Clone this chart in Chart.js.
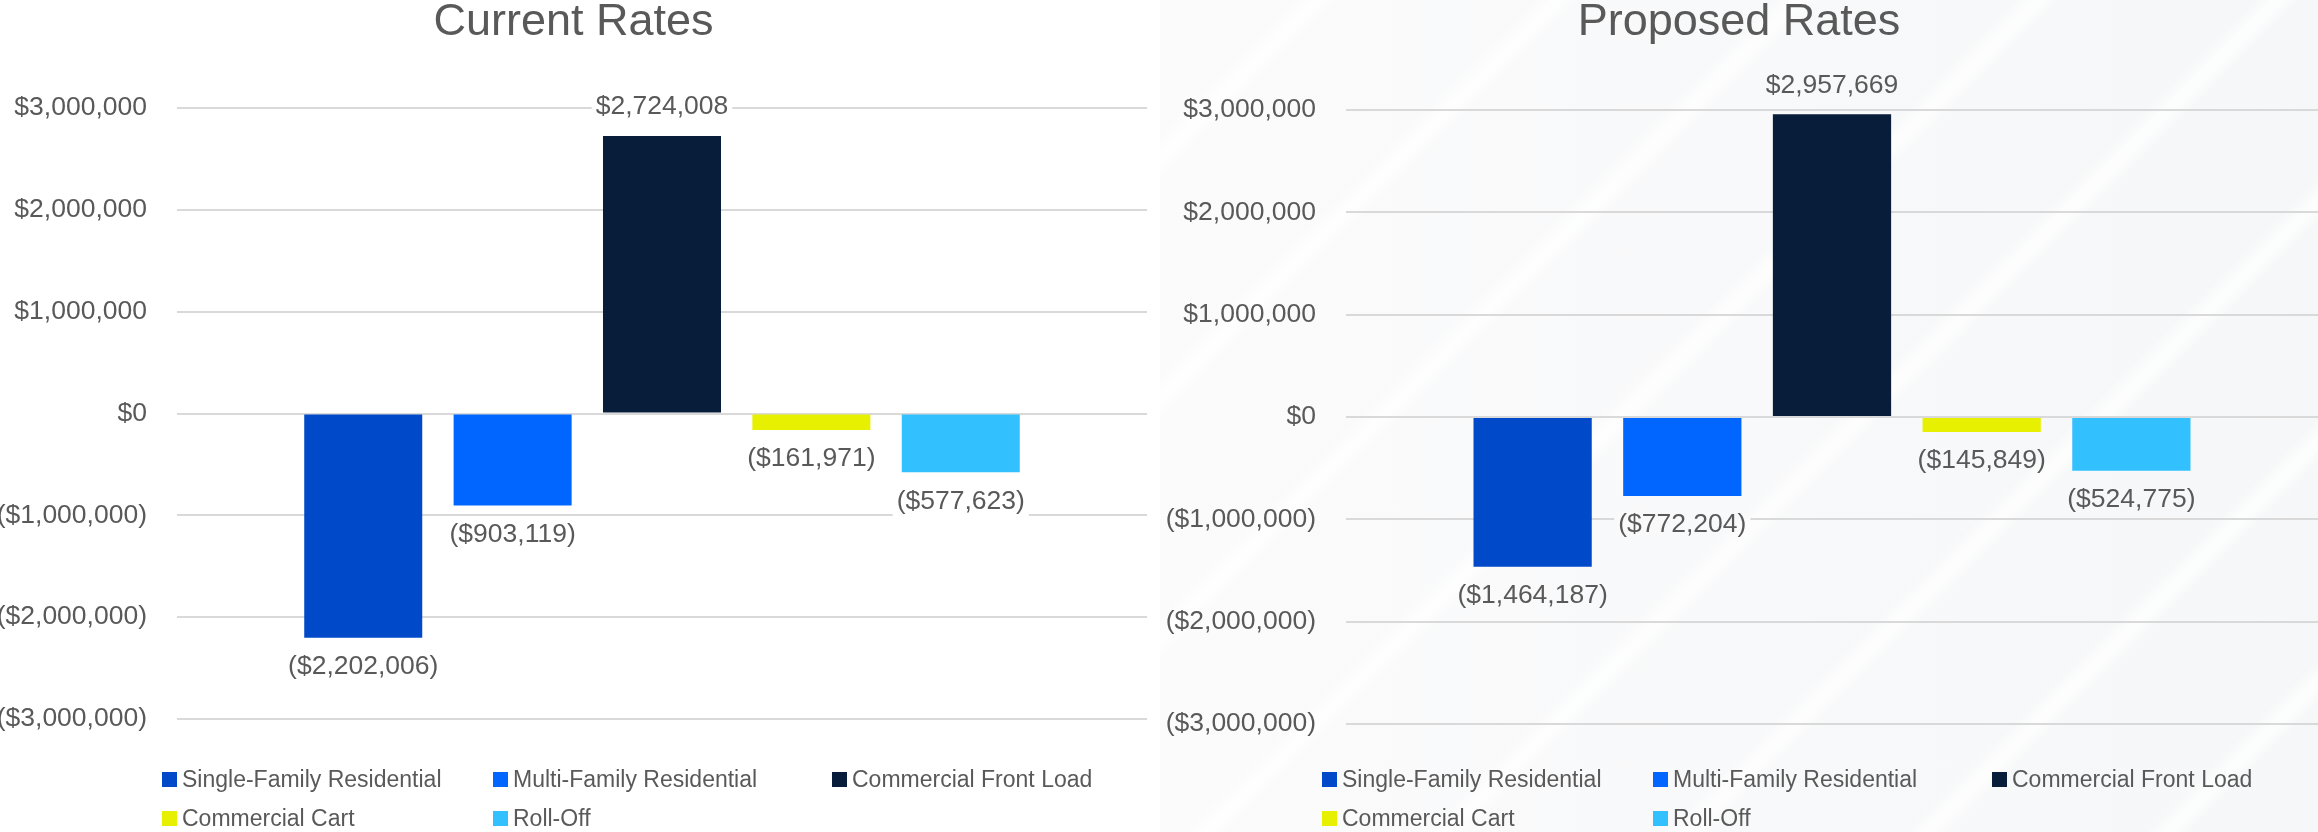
<!DOCTYPE html>
<html lang="en">
<head>
    <meta charset="UTF-8">
    <title>Current vs Proposed Rates</title>
    <script src="https://cdn.jsdelivr.net/npm/chart.js"></script>
    <style>
        body { margin: 0; background: #fff; }
        #wrap { position: relative; width: 2318px; height: 832px; overflow: hidden; font-family: "Liberation Sans", Arial, sans-serif; }
        .panel { position: absolute; top: 0; height: 832px; }
        #p1 { left: 0; width: 1160px; background: #fff; }
        #p2 {
            left: 1160px; width: 1158px;
            background:
                repeating-linear-gradient(135deg, rgba(255,255,255,0) 0px, rgba(255,255,255,0) 95px,
                    rgba(255,255,255,0.75) 108px, rgba(255,255,255,0.75) 114px, rgba(255,255,255,0) 127px, rgba(255,255,255,0) 170px),
                linear-gradient(90deg, #fbfbfc 0%, #f6f7f8 100%);
        }
        canvas { position: absolute; left: 0; top: 0; }
        .legend {
            position: absolute; left: 162px; top: 760px;
            display: grid; grid-template-columns: 331px 339px auto;
            grid-auto-rows: 39px;
            font-size: 23px; color: #595959;
        }
        .legend span { display: flex; align-items: center; white-space: nowrap; }
        .legend i { display: inline-block; width: 15px; height: 15px; margin-right: 5px; }
    </style>
</head>
<body>
<div id="wrap">
    <div class="panel" id="p1">
        <canvas id="chart1" width="1160" height="832"></canvas>
        <div class="legend" id="legend1"></div>
    </div>
    <div class="panel" id="p2">
        <canvas id="chart2" width="1158" height="832"></canvas>
        <div class="legend" id="legend2"></div>
    </div>
</div>

<script>
// series (one per customer class)
const seriesNames = ["Single-Family Residential", "Multi-Family Residential", "Commercial Front Load", "Commercial Cart", "Roll-Off"];
const seriesColors = ["#0049C8", "#0066FF", "#081D3A", "#E6F000", "#33C0FF"];

// surplus / (deficit) by class
const currentRates = [-2202006, -903119, 2724008, -161971, -577623];
const proposedRates = [-1464187, -772204, 2957669, -145849, -524775];

// y axis
const yMin = -3000000;
const yMax = 3000000;
const yStep = 1000000;

const textColor = "#595959";
const fontFamily = '"Liberation Sans", Arial, sans-serif';

function money(v) {
    const s = "$" + Math.abs(v).toLocaleString("en-US");
    return v < 0 ? "(" + s + ")" : s;
}

// value labels at bar ends, knocking out the gridline behind them
const valueLabels = {
    id: "valueLabels",
    afterDatasetsDraw(chart) {
        const ctx = chart.ctx;
        ctx.save();
        ctx.font = "26.5px " + fontFamily;
        ctx.textAlign = "center";
        ctx.textBaseline = "middle";
        chart.data.datasets.forEach((ds, i) => {
            chart.getDatasetMeta(i).data.forEach((bar, j) => {
                const v = ds.data[j];
                const y = v >= 0 ? bar.y - 29 : bar.y + 29;
                const text = money(v);
                const w = ctx.measureText(text).width;
                ctx.globalCompositeOperation = "destination-out";
                ctx.fillStyle = "#000";
                ctx.fillRect(bar.x - w / 2 - 4, y - 15, w + 8, 30);
                ctx.globalCompositeOperation = "source-over";
                ctx.fillStyle = textColor;
                ctx.fillText(text, bar.x, y);
            });
        });
        ctx.restore();
    }
};

function makeChart(canvasId, legendId, title, values, axisWidth, padRight, areaTop, areaBottom) {
    const datasets = seriesNames.map((name, i) => ({
        label: name,
        data: [values[i]],
        backgroundColor: seriesColors[i],
        categoryPercentage: 0.77,
        barPercentage: 0.79
    }));

    new Chart(document.getElementById(canvasId), {
        type: "bar",
        data: { labels: [""], datasets: datasets },
        options: {
            responsive: false,
            animation: false,
            layout: { padding: { left: 0, right: padRight, top: 0, bottom: 832 - areaBottom } },
            plugins: {
                legend: { display: false },
                tooltip: { enabled: false },
                title: {
                    display: true,
                    text: title,
                    color: textColor,
                    font: { family: fontFamily, size: 45, weight: "normal", lineHeight: 1 },
                    padding: { top: 0, bottom: areaTop - 45 }
                }
            },
            scales: {
                x: { display: false },
                y: {
                    min: yMin,
                    max: yMax,
                    afterFit: s => { s.width = axisWidth; },
                    ticks: {
                        stepSize: yStep,
                        padding: 30,
                        color: textColor,
                        font: { family: fontFamily, size: 26.5 },
                        callback: v => money(v)
                    },
                    grid: { color: "#D9D9D9", lineWidth: 2, drawTicks: false },
                    border: { display: false }
                }
            }
        },
        plugins: [valueLabels]
    });

    // legend in Excel's two-row layout
    const legend = document.getElementById(legendId);
    seriesNames.forEach((name, i) => {
        const item = document.createElement("span");
        item.innerHTML = '<i style="background:' + seriesColors[i] + '"></i>' + name;
        legend.appendChild(item);
    });
}

makeChart("chart1", "legend1", "Current Rates", currentRates, 177, 13, 108, 719);
makeChart("chart2", "legend2", "Proposed Rates", proposedRates, 186, 0, 110, 724);
</script>
</body>
</html>
